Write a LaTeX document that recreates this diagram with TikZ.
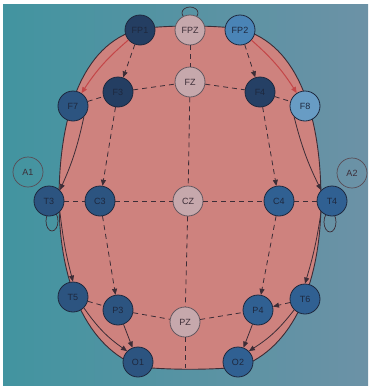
\documentclass[tikz,border=0pt]{standalone}
\usepackage{fontspec}
\setsansfont{Liberation Sans}
\usetikzlibrary{arrows.meta,shadings}
\definecolor{bgL}{RGB}{66,148,160}
\definecolor{bgR}{RGB}{108,146,166}
\definecolor{scalp}{RGB}{206,130,126}
\definecolor{rim}{RGB}{60,45,55}
\definecolor{ink}{RGB}{30,40,62}
\definecolor{navy}{RGB}{36,62,98}
\definecolor{deep}{RGB}{44,84,128}
\definecolor{mid}{RGB}{48,96,146}
\definecolor{sky}{RGB}{74,132,182}
\definecolor{pale}{RGB}{104,156,196}
\definecolor{mist}{RGB}{198,168,172}
\definecolor{redline}{RGB}{196,70,72}
\tikzset{
  el/.style={circle,draw=ink,line width=0.8pt,minimum size=30pt,inner sep=0pt,
    font=\sffamily\fontsize{9}{9}\selectfont,text=ink},
  elmid/.style={el,fill=mist,draw=rim!80,text=rim},
  elref/.style={el,draw=rim!85,text=rim,line width=0.7pt},
  grid/.style={draw=rim,line width=0.8pt,dash pattern=on 5pt off 4pt},
  tip/.style={-{Triangle[length=6pt,width=5pt]}},
  rimarrow/.style={draw=rim,line width=0.8pt,tip},
  redarrow/.style={draw=redline,line width=1pt,tip},
  loopline/.style={draw=rim,line width=0.7pt}
}
\begin{document}
\begin{tikzpicture}[x=1pt,y=-1pt]
\useasboundingbox (0,0) rectangle (368,386);
\fill[white] (0,0) rectangle (368,386);
\shade[left color=bgL,right color=bgR] (3,4) rectangle (368,386);

% head outline
\filldraw[fill=scalp,draw=rim,line width=0.9pt]
  (140,29) .. controls (165,25) and (215,25) .. (240,29)
  .. controls (300,44) and (321,120) .. (321,200)
  .. controls (321,285) and (292,348) .. (240,367)
  .. controls (210,370) and (170,370) .. (140,367)
  .. controls (88,348) and (59,285) .. (59,200)
  .. controls (59,120) and (80,44) .. (140,29) -- cycle;

% small loops behind the electrodes
\draw[loopline] (190,13) ellipse [x radius=8,y radius=6];
\draw[loopline] (52,221) ellipse [x radius=6,y radius=10];
\draw[loopline] (330,222) ellipse [x radius=6,y radius=10];

% electrodes
\node[el,fill=navy] (FP1) at (140,30) {FP1};
\node[elmid] (FPZ) at (190,30) {FPZ};
\node[el,fill=sky] (FP2) at (240,30) {FP2};
\node[el,fill=deep] (F7) at (73,106) {F7};
\node[el,fill=navy] (F3) at (118,92) {F3};
\node[elmid] (FZ) at (190,82) {FZ};
\node[el,fill=navy!90!deep] (F4) at (260,92) {F4};
\node[el,fill=pale] (F8) at (305,106) {F8};
\node[elref] (A1) at (28,172) {A1};
\node[elref] (A2) at (352,173) {A2};
\node[el,fill=deep] (T3) at (49,201) {T3};
\node[el,fill=deep] (C3) at (100,201) {C3};
\node[elmid] (CZ) at (188,201) {CZ};
\node[el,fill=mid] (C4) at (279,201) {C4};
\node[el,fill=mid] (T4) at (332,201) {T4};
\node[el,fill=deep] (T5) at (73,297) {T5};
\node[el,fill=deep] (P3) at (118,310) {P3};
\node[elmid] (PZ) at (185,322) {PZ};
\node[el,fill=mid] (P4) at (258,310) {P4};
\node[el,fill=mid] (T6) at (305,299) {T6};
\node[el,fill=deep] (O1) at (138,362) {O1};
\node[el,fill=mid] (O2) at (238,362) {O2};
\coordinate (base) at (185,368);

% dashed grid
\draw[grid] (F7) -- (F3);
\draw[grid] (F3) -- (FZ);
\draw[grid] (FZ) -- (F4);
\draw[grid] (F4) -- (F8);
\draw[grid] (T3) -- (C3);
\draw[grid] (C3) -- (CZ);
\draw[grid] (CZ) -- (C4);
\draw[grid] (C4) -- (T4);
\draw[grid] (T5) -- (P3);
\draw[grid] (P3) -- (PZ);
\draw[grid] (PZ) -- (P4);
\draw[grid,tip] (T6) -- (P4);
\draw[grid] (FPZ) -- (FZ);
\draw[grid] (FZ) -- (CZ);
\draw[grid] (CZ) -- (PZ);
\draw[grid] (PZ) -- (base);
\draw[grid,tip] (FP1) -- (F3);
\draw[grid,tip] (F3) -- (C3);
\draw[grid,tip] (C3) -- (P3);
\draw[grid,tip] (FP2) -- (F4);
\draw[grid,tip] (F4) -- (C4);
\draw[grid,tip] (C4) -- (P4);
\draw[rimarrow] (P3) -- (O1);
\draw[rimarrow] (P4) -- (O2);

% temporal chains along the rim
\draw[redarrow] (FP1) to[bend right=8] (F7);
\draw[redarrow] (FP2) to[bend left=8] (F8);
\draw[rimarrow] (F7.south east) to[bend left=6] (T3.north east);
\draw[rimarrow] (F8.south west) to[bend right=6] (T4.north west);
\draw[rimarrow] (T3.south east) to[bend right=4] (T5.north);
\draw[rimarrow] (T4.south west) to[bend left=4] (T6.north);
\draw[rimarrow] (T5.south east) to[bend right=10] (O1.north west);
\draw[rimarrow] (T6.south west) to[bend left=10] (O2.north east);
\end{tikzpicture}
\end{document}
